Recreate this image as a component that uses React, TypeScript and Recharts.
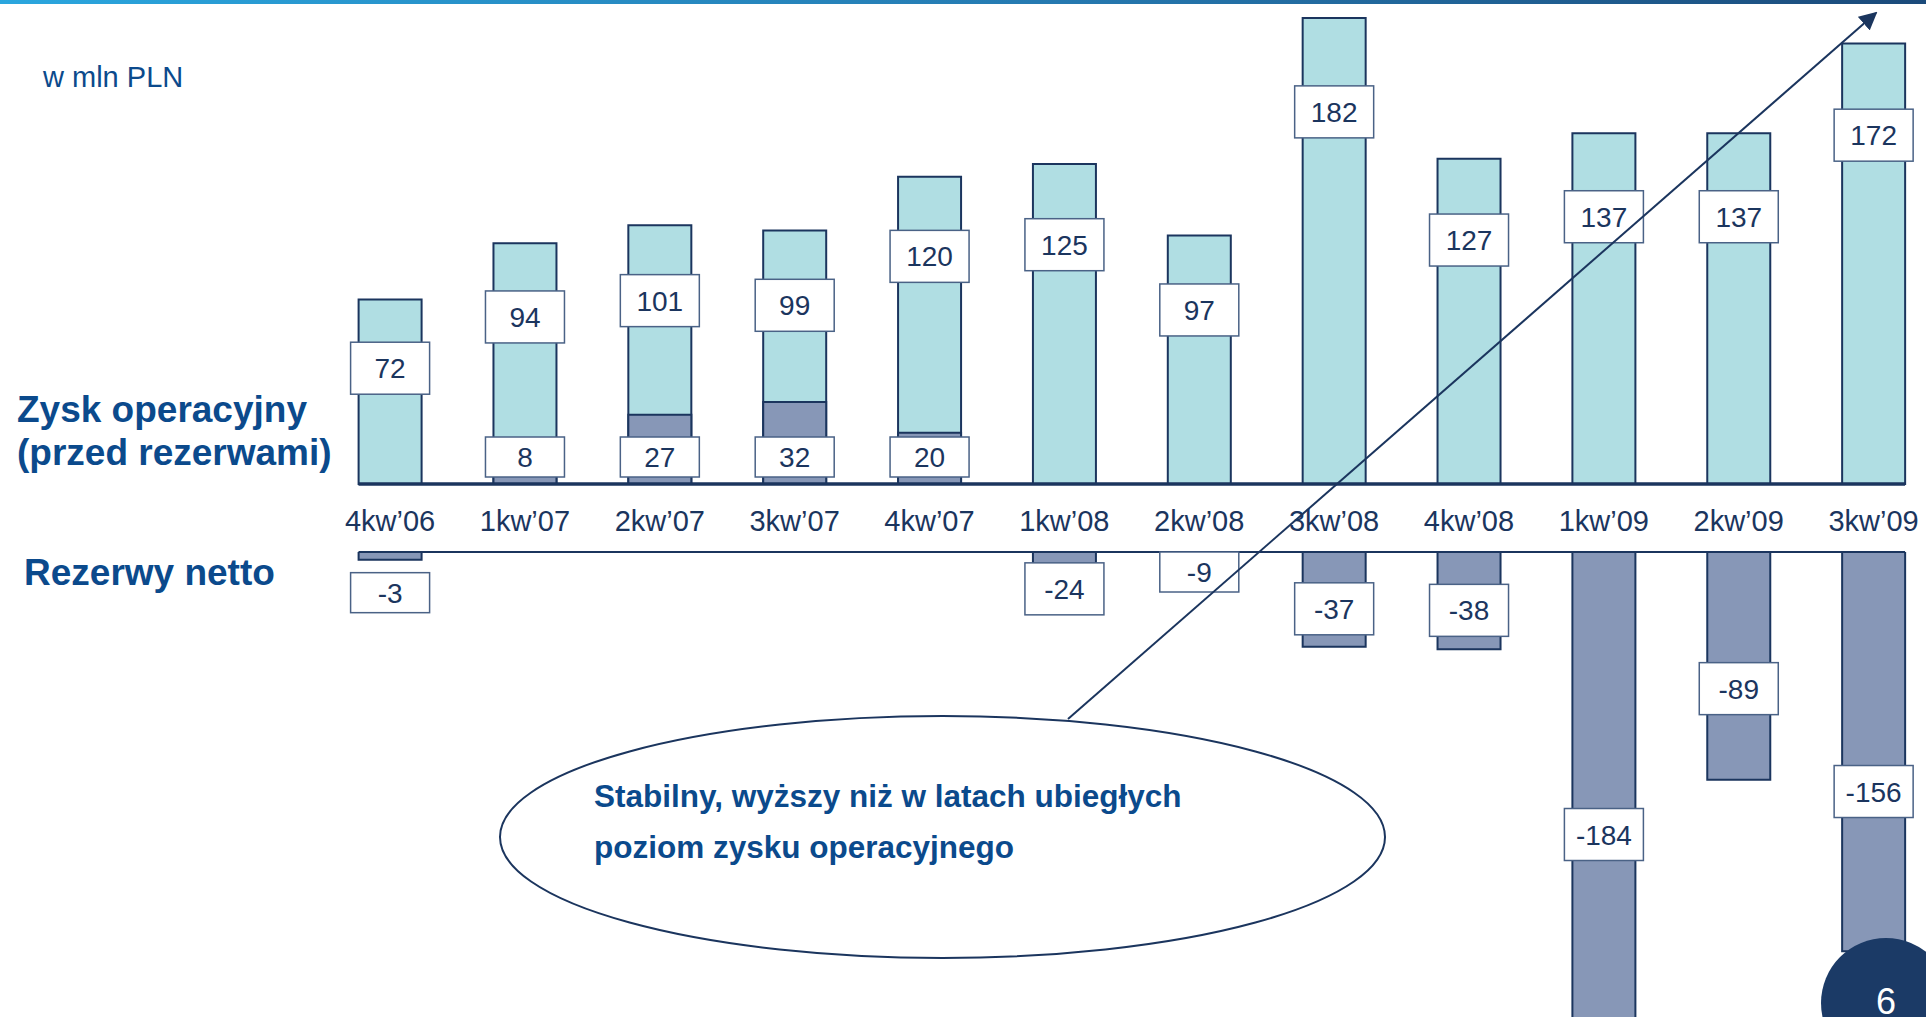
import { Bar, BarChart, LabelList, ReferenceLine, XAxis, YAxis } from 'recharts';

// w mln PLN
const quarters = ['4kw’06', '1kw’07', '2kw’07', '3kw’07', '4kw’07', '1kw’08', '2kw’08', '3kw’08', '4kw’08', '1kw’09', '2kw’09', '3kw’09'];
const operatingProfit = [72, 94, 101, 99, 120, 125, 97, 182, 127, 137, 137, 172];
// 2007: net provisions were positive (released)
const releasedProvisions = [null, 8, 27, 32, 20, null, null, null, null, null, null, null];
const netProvisions = [-3, null, null, null, null, -24, -9, -37, -38, -184, -89, -156];

const topData = quarters.map((q, i) => ({ q, profit: operatingProfit[i], released: releasedProvisions[i] }));
const bottomData = quarters.map((q, i) => ({ q, provisions: netProvisions[i] }));

const NAVY = '#1B355E';
const BLUE = '#0B4A8C';
const LIGHT = '#B0DEE3';
const SLATE = '#8797B7';
const FONT = '"Liberation Sans", Arial, sans-serif';
const BAR_W = 63;
const CHART_W = 1941;
const LEFT = 322.6;

function LabelBox({ cx, cy, h, text }: { cx: number; cy: number; h: number; text: any }) {
  return (
    <g>
      <rect x={cx - 39.5} y={cy - h / 2} width={79} height={h} fill="#fff" stroke="#4A6286" strokeWidth={1.5} />
      <text x={cx} y={cy + 10} textAnchor="middle" fontSize={28} fill={NAVY} fontFamily={FONT}>
        {text}
      </text>
    </g>
  );
}

const box = (p: any) => {
  const y = Number(p.y);
  const height = Number(p.height);
  return { cx: Number(p.x) + Number(p.width) / 2, top: Math.min(y, y + height), h: Math.abs(height) };
};

const profitLabel = (p: any) => {
  if (p.value == null) return null;
  const b = box(p);
  return <LabelBox cx={b.cx} cy={b.top + 52 + 0.09 * b.h} h={52} text={p.value} />;
};

const releasedLabel = (p: any) => {
  if (p.value == null) return null;
  const b = box(p);
  return <LabelBox cx={b.cx} cy={b.top + b.h - 27} h={40} text={p.value} />;
};

const provisionsLabel = (p: any) => {
  if (p.value == null) return null;
  const b = box(p);
  const cy = b.h < 12 ? b.top + b.h + 33 : b.top + Math.max(0.6 * b.h, 20);
  return <LabelBox cx={b.cx} cy={cy} h={Math.abs(p.value) < 10 ? 40 : 52} text={p.value} />;
};

const baseline = (w: number) => (p: any) => (
  <line x1={p.x1 - BAR_W / 2} y1={p.y1} x2={p.x2 + BAR_W / 2} y2={p.y2} stroke={NAVY} strokeWidth={w} />
);

const segment = [
  { x: quarters[0], y: 0 },
  { x: quarters[quarters.length - 1], y: 0 },
];

export default function App() {
  return (
    <div
      style={{
        position: 'absolute',
        left: 0,
        top: 0,
        width: 1926,
        height: 1017,
        overflow: 'hidden',
        background: '#fff',
        fontFamily: FONT,
      }}
    >
      <div
        style={{
          position: 'absolute',
          left: 0,
          top: 0,
          width: 1926,
          height: 4,
          background: 'linear-gradient(90deg, #2AA6DE 0%, #2579B0 55%, #1B4A7A 100%)',
        }}
      />

      <div style={{ position: 'absolute', left: 0, top: 0 }}>
        <BarChart width={CHART_W} height={552} data={topData} margin={{ top: 0, right: 0, bottom: 0, left: LEFT }}>
          <XAxis
            dataKey="q"
            height={68}
            axisLine={false}
            tickLine={false}
            interval={0}
            tick={(p: any) => (
              <text x={p.x} y={531} textAnchor="middle" fontSize={29} fill={NAVY} fontFamily={FONT}>
                {p.payload.value}
              </text>
            )}
          />
          <XAxis xAxisId="ov" dataKey="q" hide />
          <YAxis hide domain={[0, 189]} />
          <Bar dataKey="profit" barSize={BAR_W} fill={LIGHT} stroke={NAVY} strokeWidth={2} isAnimationActive={false}>
            <LabelList dataKey="profit" content={profitLabel} />
          </Bar>
          <Bar
            dataKey="released"
            xAxisId="ov"
            barSize={BAR_W}
            fill={SLATE}
            stroke={NAVY}
            strokeWidth={2}
            isAnimationActive={false}
          >
            <LabelList dataKey="released" content={releasedLabel} />
          </Bar>
          <ReferenceLine segment={segment} shape={baseline(3.5)} />
        </BarChart>
      </div>

      <div style={{ position: 'absolute', left: 0, top: 548 }}>
        <BarChart width={CHART_W} height={503} data={bottomData} margin={{ top: 4, right: 0, bottom: 0, left: LEFT }}>
          <XAxis dataKey="q" hide />
          <YAxis hide domain={[-195, 0]} allowDataOverflow />
          <ReferenceLine segment={segment} shape={baseline(1.8)} />
          <Bar dataKey="provisions" barSize={BAR_W} fill={SLATE} stroke={NAVY} strokeWidth={2} isAnimationActive={false}>
            <LabelList dataKey="provisions" content={provisionsLabel} />
          </Bar>
        </BarChart>
      </div>

      <svg
        width={1926}
        height={1017}
        style={{ position: 'absolute', left: 0, top: 0, pointerEvents: 'none' }}
        fontFamily={FONT}
      >
        <defs>
          <marker id="head" viewBox="0 0 10 10" refX="9" refY="5" markerWidth="9" markerHeight="9" orient="auto">
            <path d="M0,0 L10,5 L0,10 z" fill={NAVY} />
          </marker>
        </defs>
        <text x={43} y={87} fontSize={29} fill={BLUE}>
          w mln PLN
        </text>
        <text x={17} y={422} fontSize={37} fontWeight="bold" fill={BLUE}>
          Zysk operacyjny
        </text>
        <text x={17} y={465} fontSize={37} fontWeight="bold" fill={BLUE}>
          (przed rezerwami)
        </text>
        <text x={24} y={585} fontSize={37} fontWeight="bold" fill={BLUE}>
          Rezerwy netto
        </text>

        <ellipse cx={942.5} cy={837} rx={442.5} ry={121} fill="#fff" stroke={NAVY} strokeWidth={2} />
        <text x={594} y={807} fontSize={31.5} fontWeight="bold" fill={BLUE}>
          Stabilny, wyższy niż w latach ubiegłych
        </text>
        <text x={594} y={858} fontSize={31.5} fontWeight="bold" fill={BLUE}>
          poziom zysku operacyjnego
        </text>
        <line x1={1068} y1={719} x2={1876} y2={13} stroke={NAVY} strokeWidth={2} markerEnd="url(#head)" />

        <circle cx={1886} cy={1003} r={65} fill="#1B3A66" />
        <text x={1886} y={1014} fontSize={36} fill="#fff" textAnchor="middle">
          6
        </text>
      </svg>
    </div>
  );
}
